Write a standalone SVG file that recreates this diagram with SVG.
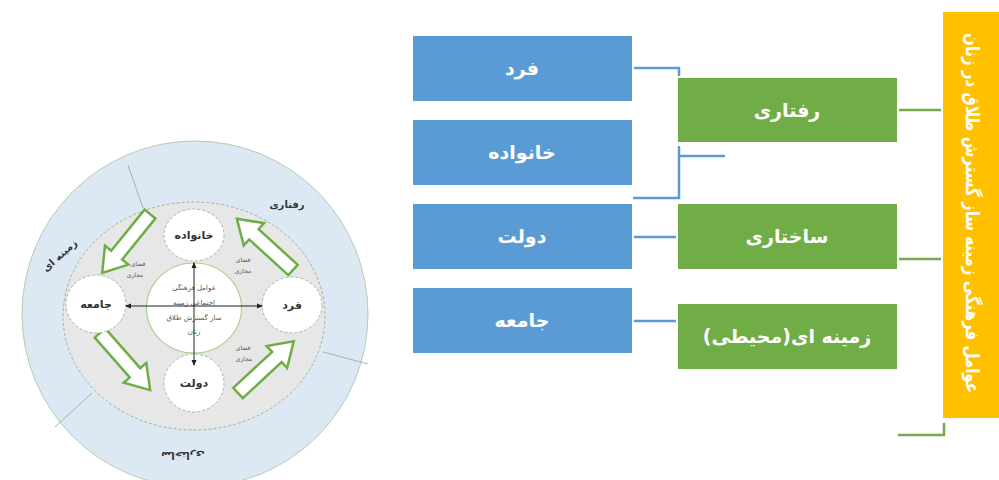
<svg xmlns="http://www.w3.org/2000/svg" width="999" height="480" viewBox="0 0 999 480">
<defs>
<style>
text{font-family:"DejaVu Sans",sans-serif;}
.box-t{fill:#fff;font-weight:bold;font-size:19px;text-anchor:middle;direction:rtl;}
.blue{fill:#5b9bd5;}
.green{fill:#70ad47;}
.cb{fill:none;stroke:#5b9bd5;stroke-width:2.5;}
.cg{fill:none;stroke:#70ad47;stroke-width:2.5;}
.node{fill:#fff;stroke:#a9b8a4;stroke-width:1;stroke-dasharray:3 2;}
.nt{font-size:11px;font-weight:bold;fill:#333;text-anchor:middle;direction:rtl;}
.st{font-size:6px;fill:#555;text-anchor:middle;direction:rtl;}
.ct{font-size:7px;fill:#555;text-anchor:middle;direction:rtl;}
.barr{fill:#fff;stroke:#70ad47;stroke-width:2.5;stroke-linejoin:miter;}
.sep{stroke:#9fb8a0;stroke-width:1;}
.axis{stroke:#222;stroke-width:1;}
</style>
<marker id="ah" viewBox="0 0 6 6" refX="5" refY="3" markerWidth="6" markerHeight="6" orient="auto"><path d="M0,0.5 L6,3 L0,5.5 Z" fill="#222"/></marker>
<path id="bar" d="M0,-7 L53,-7 L53,-15 L76,0 L53,15 L53,7 L0,7 Z"/>
</defs>
<rect width="999" height="480" fill="#fff"/>

<!-- Left circular diagram -->
<g id="circle-diagram">
<circle cx="195" cy="314" r="173" fill="#dce8f4" stroke="#b5ccb0" stroke-width="1"/>
<line class="sep" x1="128" y1="165" x2="143" y2="208"/>
<line class="sep" x1="323" y1="352" x2="368" y2="364"/>
<line class="sep" x1="92" y1="393" x2="55" y2="427"/>
<ellipse cx="194" cy="316" rx="131" ry="114" fill="#e7e7e7" stroke="#9fb59a" stroke-width="1" stroke-dasharray="3 2"/>
<text x="287" y="208" font-size="10" font-weight="bold" fill="#333" text-anchor="middle" direction="rtl">رفتاری</text>
<text x="0" y="0" font-size="10" font-weight="bold" fill="#333" text-anchor="middle" direction="rtl" transform="translate(62,258) rotate(-42)">زمینه ای</text>
<text x="0" y="0" font-size="10" font-weight="bold" fill="#333" text-anchor="middle" direction="rtl" transform="translate(183,452) rotate(180)">ساختاری</text>
</g>

<g id="arrows-block">
<use href="#bar" class="barr" transform="translate(150,214) rotate(129)"/>
<use href="#bar" class="barr" transform="translate(293,270) rotate(-137.6)"/>
<use href="#bar" class="barr" transform="translate(100,333) rotate(48.7)"/>
<use href="#bar" class="barr" transform="translate(238,393) rotate(-42.8)"/>
</g>

<g id="node-center">
<ellipse cx="194" cy="308" rx="47.5" ry="45" fill="#fff" stroke="#a9d08e" stroke-width="1.2"/>
<text class="ct" x="194" y="290">عوامل فرهنگی</text>
<text class="ct" x="194" y="305">اجتماعی زمینه</text>
<text class="ct" x="194" y="320">ساز گسترش طلاق</text>
<text class="ct" x="194" y="334">زنان</text>
</g>
<g id="node-khanevadeh"><ellipse class="node" cx="194" cy="235" rx="30" ry="26"/><text class="nt" x="194" y="239">خانواده</text></g>
<g id="node-jameeh"><ellipse class="node" cx="96" cy="304" rx="30" ry="29"/><text class="nt" x="96" y="308">جامعه</text></g>
<g id="node-fard"><ellipse class="node" cx="292" cy="305" rx="30" ry="28"/><text class="nt" x="292" y="309">فرد</text></g>
<g id="node-dolat"><ellipse class="node" cx="194" cy="383" rx="30" ry="29"/><text class="nt" x="194" y="387">دولت</text></g>

<g id="virtual-labels">
<text class="st" x="138" y="266">فضای</text><text class="st" x="135" y="277">مجازی</text>
<text class="st" x="243" y="262">فضای</text><text class="st" x="243" y="273">مجازی</text>
<text class="st" x="243" y="350">فضای</text><text class="st" x="244" y="361">مجازی</text>
</g>

<g id="axes">
<line class="axis" x1="194" y1="306" x2="262" y2="306" marker-end="url(#ah)"/>
<line class="axis" x1="194" y1="306" x2="126" y2="306" marker-end="url(#ah)"/>
<line class="axis" x1="194" y1="306" x2="194" y2="263" marker-end="url(#ah)"/>
<line class="axis" x1="194" y1="306" x2="194" y2="365" marker-end="url(#ah)"/>
</g>

<!-- Right hierarchy -->
<g id="connectors">
<path class="cb" d="M634,68 H679 V76"/>
<path class="cb" d="M633,198 H679 V146 M679,156 H725"/>
<path class="cb" d="M634,237 H676"/>
<path class="cb" d="M634,321 H676"/>
<path class="cg" d="M899,110 H941"/>
<path class="cg" d="M899,259 H941"/>
<path class="cg" d="M898,435 H944 V423"/>
</g>

<g id="box-fard"><rect class="blue" x="413" y="36" width="219" height="65"/><text class="box-t" x="522" y="75">فرد</text></g>
<g id="box-khanevadeh"><rect class="blue" x="413" y="120" width="219" height="65"/><text class="box-t" x="522" y="159">خانواده</text></g>
<g id="box-dolat"><rect class="blue" x="413" y="204" width="219" height="65"/><text class="box-t" x="522" y="243">دولت</text></g>
<g id="box-jameeh"><rect class="blue" x="413" y="288" width="219" height="65"/><text class="box-t" x="522" y="327">جامعه</text></g>

<g id="box-raftari"><rect class="green" x="678" y="78" width="219" height="64"/><text class="box-t" x="787" y="117">رفتاری</text></g>
<g id="box-sakhtari"><rect class="green" x="678" y="204" width="219" height="65"/><text class="box-t" x="787" y="243">ساختاری</text></g>
<g id="box-zamineh"><rect class="green" x="678" y="304" width="219" height="65"/><text class="box-t" x="787" y="343">زمینه ای(محیطی)</text></g>

<g id="box-title"><rect x="943" y="12" width="56" height="406" fill="#ffc000"/><text class="box-t" font-size="15" textLength="360" lengthAdjust="spacingAndGlyphs" transform="translate(966,213) rotate(90)" x="0" y="0">عوامل فرهنگی زمینه ساز گسترش طلاق در زنان</text></g>
</svg>
